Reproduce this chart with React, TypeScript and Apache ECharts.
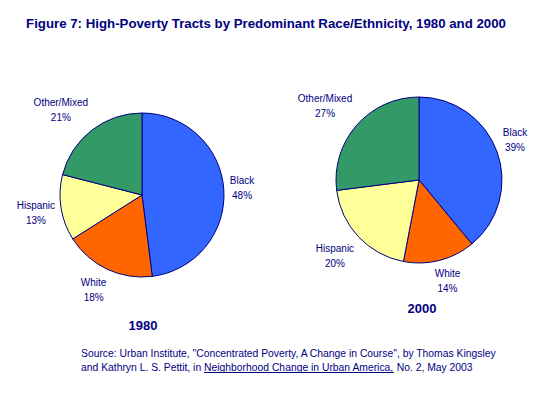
import React, { useEffect, useRef } from 'react';
import * as echarts from 'echarts';

const categories = ['Black', 'White', 'Hispanic', 'Other/Mixed'];
const values1980 = [48, 18, 13, 21];
const values2000 = [39, 14, 20, 27];
const years = ['1980', '2000'];
const titleText = 'Figure 7: High-Poverty Tracts by Predominant Race/Ethnicity, 1980 and 2000';
const sourceLine1 = 'Source: Urban Institute, "Concentrated Poverty, A Change in Course", by Thomas Kingsley';
const sourceLine2 = ['and Kathryn L. S. Pettit, in ', 'Neighborhood Change in Urban America,', ' No. 2, May 2003'];

const colors = ['#3366FF', '#FF6600', '#FFFF99', '#339966'];
const NAVY = '#000080';
const FONT = '"Liberation Sans", Arial, sans-serif';
const SRC_SIZE = 10.35;

function measure(text: string, font: string, fallback: number): number {
  try {
    const c = document.createElement('canvas');
    const ctx = c.getContext('2d');
    if (!ctx) return fallback;
    ctx.font = font;
    return ctx.measureText(text).width;
  } catch (e) {
    return fallback;
  }
}

function clamp1(t: number) {
  return Math.max(-1, Math.min(1, t));
}

// Excel-like placement: the label box touches a point just outside the slice's mid-angle
function placeLabel(params: any) {
  const pts = params.labelLinePoints;
  const rect = params.labelRect;
  if (!pts || pts.length < 2 || !rect) return {};
  const p0 = pts[0];
  const p1 = pts[1];
  let ux = p1[0] - p0[0];
  let uy = p1[1] - p0[1];
  const len = Math.sqrt(ux * ux + uy * uy) || 1;
  ux /= len;
  uy /= len;
  const gap = 6;
  const px = p0[0] + ux * gap;
  const py = p0[1] + uy * gap;
  return {
    x: px + clamp1(ux * 2) * rect.width / 2,
    y: py + clamp1(uy * 2) * rect.height / 2,
    align: 'center',
    verticalAlign: 'middle',
  };
}

function pieSeries(values: number[], center: [number, number], radius: number) {
  return {
    type: 'pie',
    center,
    radius,
    startAngle: 90,
    clockwise: true,
    avoidLabelOverlap: false,
    silent: true,
    data: categories.map((n, i) => ({ name: n, value: values[i], itemStyle: { color: colors[i] } })),
    itemStyle: { borderColor: NAVY, borderWidth: 1 },
    label: {
      show: true,
      position: 'outside',
      formatter: '{b}\n{c}%',
      color: NAVY,
      fontSize: 10,
      fontFamily: FONT,
      lineHeight: 15,
    },
    labelLine: { show: true, length: 10, length2: 0, lineStyle: { opacity: 0, width: 0 } },
    labelLayout: placeLabel,
  };
}

export default function App() {
  const ref = useRef<HTMLDivElement>(null);
  useEffect(() => {
    if (!ref.current) return;
    const chart = echarts.init(ref.current, undefined, { renderer: 'svg' });
    const srcFont = SRC_SIZE + 'px "Liberation Sans"';
    const x0 = 81;
    const w0 = measure(sourceLine2[0], srcFont, 122);
    const w1 = measure(sourceLine2[1], srcFont, 117);
    const srcStyle = { fill: NAVY, fontSize: SRC_SIZE, fontFamily: FONT, textVerticalAlign: 'middle' };
    chart.setOption({
      animation: false,
      backgroundColor: '#ffffff',
      series: [
        pieSeries(values1980, [142, 195], 82),
        pieSeries(values2000, [419, 180], 83),
      ],
      graphic: [
        {
          type: 'text', x: 266, y: 23,
          style: { text: titleText, fill: NAVY, fontSize: 13.25, fontWeight: 'bold', fontFamily: FONT, textAlign: 'center', textVerticalAlign: 'middle' },
        },
        {
          type: 'text', x: 143, y: 325,
          style: { text: years[0], fill: NAVY, fontSize: 13, fontWeight: 'bold', fontFamily: FONT, textAlign: 'center', textVerticalAlign: 'middle' },
        },
        {
          type: 'text', x: 422, y: 308,
          style: { text: years[1], fill: NAVY, fontSize: 13, fontWeight: 'bold', fontFamily: FONT, textAlign: 'center', textVerticalAlign: 'middle' },
        },
        { type: 'text', x: x0, y: 353, style: { ...srcStyle, text: sourceLine1 } },
        { type: 'text', x: x0, y: 367, style: { ...srcStyle, text: sourceLine2[0] } },
        { type: 'text', x: x0 + w0, y: 367, style: { ...srcStyle, text: sourceLine2[1] } },
        { type: 'text', x: x0 + w0 + w1, y: 367, style: { ...srcStyle, text: sourceLine2[2] } },
        {
          type: 'line',
          shape: { x1: x0 + w0, y1: 372.5, x2: x0 + w0 + w1, y2: 372.5 },
          style: { stroke: NAVY, lineWidth: 1 },
        },
      ],
    });
    return () => chart.dispose();
  }, []);
  return <div ref={ref} style={{ position: 'fixed', left: 0, top: 0, width: 550, height: 393 }} />;
}
